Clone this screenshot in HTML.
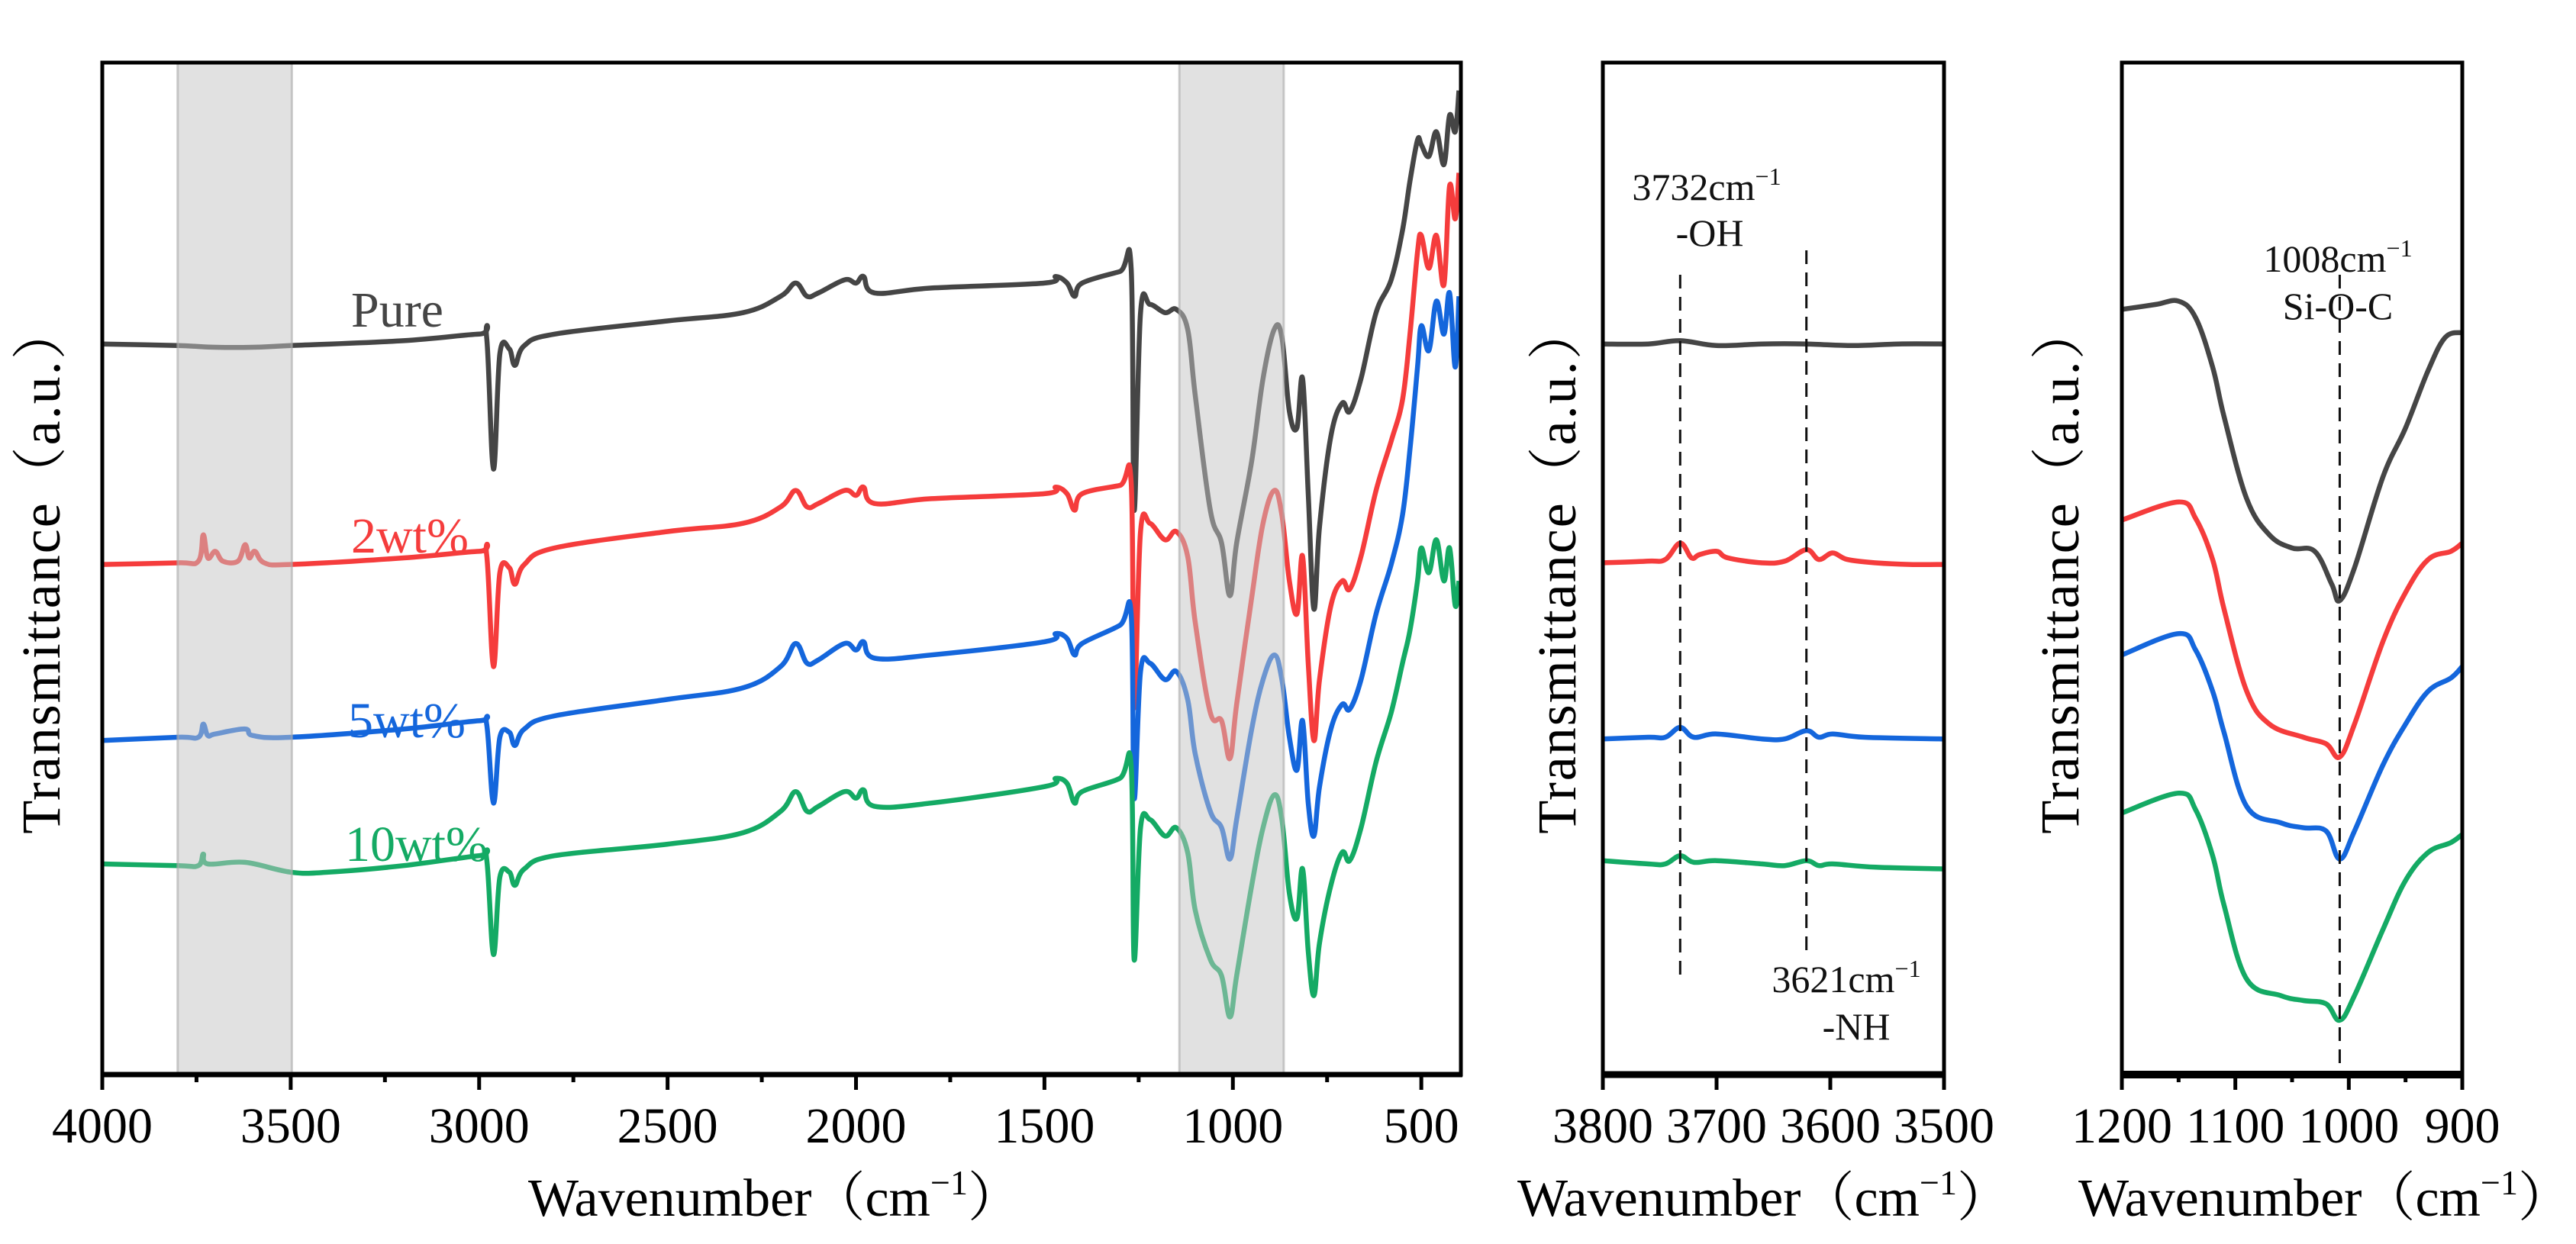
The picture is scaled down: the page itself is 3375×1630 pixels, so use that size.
<!DOCTYPE html>
<html><head><meta charset="utf-8">
<style>
html,body{margin:0;padding:0;background:#fff;}
svg{display:block;font-family:"Liberation Serif","Noto Serif CJK SC",serif;}
</style></head>
<body>
<svg id="chart" width="3375" height="1630" viewBox="0 0 3375 1630" xmlns="http://www.w3.org/2000/svg"></svg>
<script>
// ---------- data ----------
const seriesNames = ["Pure","2wt%","5wt%","10wt%"];
const seriesColors = ["#454545","#f53c3c","#1466dc","#14aa64"];
const mainTicks = [4000,3500,3000,2500,2000,1500,1000,500];
const ohTicks = [3800,3700,3600,3500];
const siTicks = [1200,1100,1000,900];
const bands = [[3800,3497],[1142,865]];
const ohPeaks = [3732,3621];
const siPeak = [1008];

const pureMain = [[4000,444],[3800,443],[3700,442],[3600,442],[3500,443],[3200,446],[3000,450],[2980,448],[2962,368],[2945,438],[2920,441],[2905,431],[2880,443],[2800,450],[2500,458],[2300,463],[2200,473],[2160,481],[2130,473],[2100,475],[2030,483],[2000,481],[1980,485],[1950,475],[1800,478],[1500,481],[1470,485],[1440,481],[1420,473],[1400,481],[1300,488],[1270,490],[1262,343],[1245,463],[1220,468],[1180,463],[1150,465],[1120,453],[1100,413],[1060,343],[1030,323],[1008,291],[990,323],[950,373],[920,423],[890,453],[870,448],[850,403],[830,393],[815,423],[800,353],[785,283],[770,333],[740,388],[710,408],[690,403],[660,423],[620,463],[580,483],[550,513],[530,543],[510,568],[500,565],[480,558],[460,573],[440,553],[425,583],[410,573],[400,598]];
const wt2Main = [[4000,310],[3800,311],[3745,312],[3732,328],[3720,314],[3700,318],[3680,312],[3640,312],[3621,322],[3610,314],[3595,318],[3570,311],[3500,310],[3200,314],[3000,318],[2980,316],[2962,248],[2945,305],[2920,308],[2905,298],[2880,310],[2800,320],[2500,330],[2300,335],[2200,345],[2160,355],[2130,345],[2100,347],[2030,355],[2000,352],[1980,357],[1950,347],[1800,350],[1500,353],[1470,357],[1440,353],[1420,343],[1400,353],[1300,358],[1270,360],[1262,223],[1245,330],[1220,335],[1180,325],[1150,330],[1120,315],[1100,275],[1060,220],[1030,215],[1008,192],[990,225],[950,290],[920,335],[890,355],[870,340],[850,300],[830,280],[815,315],[800,250],[785,203],[770,240],[740,285],[710,300],[690,295],[660,315],[620,355],[580,385],[550,410],[530,450],[510,500],[500,510],[480,490],[460,510],[440,480],[425,540],[410,520],[400,548]];
const wt5Main = [[4000,203],[3800,205],[3745,205],[3732,213],[3720,206],[3700,207],[3621,210],[3600,206],[3500,205],[3200,210],[3000,215],[2980,213],[2962,165],[2945,205],[2920,208],[2905,200],[2880,210],[2800,218],[2500,228],[2300,235],[2200,248],[2160,262],[2130,250],[2100,252],[2030,262],[2000,258],[1980,263],[1950,253],[1800,255],[1500,263],[1470,268],[1440,265],[1420,255],[1400,262],[1300,273],[1270,280],[1262,168],[1245,245],[1220,250],[1180,240],[1150,245],[1120,228],[1100,195],[1060,160],[1030,150],[1008,131],[990,155],[950,210],[920,240],[890,255],[870,240],[850,205],[830,185],[815,215],[800,165],[785,145],[770,175],[740,210],[710,225],[690,222],[660,240],[620,280],[580,310],[550,340],[530,380],[510,430],[500,455],[480,440],[460,470],[440,450],[425,475],[410,430],[400,473]];
const wt10Main = [[4000,128],[3800,127],[3745,127],[3732,134],[3720,128],[3621,129],[3500,123],[3400,123],[3200,127],[3000,133],[2980,131],[2962,73],[2945,120],[2920,123],[2905,115],[2880,125],[2800,133],[2500,140],[2300,147],[2200,160],[2160,172],[2130,160],[2100,163],[2030,172],[2000,168],[1980,173],[1950,163],[1800,165],[1500,175],[1470,180],[1440,177],[1420,165],[1400,172],[1300,180],[1270,188],[1262,70],[1245,150],[1220,155],[1180,145],[1150,150],[1120,135],[1100,100],[1060,70],[1030,60],[1008,35],[990,60],[950,115],[920,150],[890,170],[870,155],[850,110],[830,95],[815,125],[800,75],[785,48],[770,80],[740,115],[710,135],[690,130],[660,150],[620,190],[580,220],[550,250],[530,270],[510,300],[500,320],[480,305],[460,325],[440,300],[425,320],[410,285],[400,300]];

const pureOH = [[3800,444],[3760,444],[3732,446],[3700,443],[3660,444],[3621,444],[3580,443],[3540,444],[3500,444]];
const wt2OH = [[3800,311],[3760,312],[3745,313],[3732,323],[3722,314],[3715,316],[3700,318],[3690,314],[3660,311],[3640,312],[3621,319],[3610,313],[3598,317],[3585,313],[3560,311],[3530,310],[3500,310]];
const wt5OH = [[3800,204],[3760,205],[3745,205],[3732,211],[3720,205],[3700,207],[3660,204],[3640,204],[3621,209],[3610,205],[3598,207],[3570,205],[3500,204]];
const wt10OH = [[3800,130],[3760,128],[3745,128],[3732,133],[3720,129],[3700,130],[3660,128],[3640,127],[3621,130],[3610,127],[3598,128],[3560,126],[3500,125]];

const pureSi = [[1200,465],[1170,468],[1150,470],[1135,460],[1120,430],[1110,400],[1090,350],[1070,328],[1050,320],[1030,318],[1015,298],[1008,288],[995,308],[970,363],[950,393],[930,428],[915,448],[900,451]];
const wt2Si = [[1200,337],[1150,348],[1135,338],[1120,313],[1110,283],[1090,233],[1070,213],[1040,205],[1020,201],[1008,193],[995,213],[970,263],[950,293],[930,313],[910,318],[900,323]];
const wt5Si = [[1200,255],[1150,268],[1135,258],[1120,233],[1110,208],[1090,163],[1060,153],[1040,150],[1020,148],[1008,131],[995,148],[970,188],[950,213],[930,233],[910,241],[900,248]];
const wt10Si = [[1200,159],[1150,171],[1135,161],[1120,133],[1110,103],[1090,58],[1060,48],[1040,45],[1020,43],[1008,33],[995,48],[970,88],[950,118],[930,135],[910,141],[900,146]];

// ---------- rendering ----------
const NS = "http://www.w3.org/2000/svg";
const svg = document.getElementById("chart");
function mk(tag, attrs, parent){
  const e = document.createElementNS(NS, tag);
  for (const k in attrs) e.setAttribute(k, attrs[k]);
  (parent||svg).appendChild(e);
  return e;
}
const TOP = 82, BOT = 1408, YMAX = 615;
function yScale(v){ return BOT - v/YMAX*(BOT-TOP); }
function makeX(d0,d1,r0,r1){ return v => r0 + (v-d0)/(d1-d0)*(r1-r0); }

function smoothPath(pts){
  let d = "M"+pts[0][0].toFixed(1)+","+pts[0][1].toFixed(1);
  for (let i=0;i<pts.length-1;i++){
    const p0 = pts[Math.max(0,i-1)], p1=pts[i], p2=pts[i+1], p3=pts[Math.min(pts.length-1,i+2)];
    const t=0.18;
    const c1x=p1[0]+(p2[0]-p0[0])*t, c1y=p1[1]+(p2[1]-p0[1])*t;
    const c2x=p2[0]-(p3[0]-p1[0])*t, c2y=p2[1]-(p3[1]-p1[1])*t;
    d += "C"+c1x.toFixed(1)+","+c1y.toFixed(1)+" "+c2x.toFixed(1)+","+c2y.toFixed(1)+" "+p2[0].toFixed(1)+","+p2[1].toFixed(1);
  }
  return d;
}

function panel(cfg){
  const g = mk("g",{});
  
  
  const x = makeX(cfg.d0, cfg.d1, cfg.x0, cfg.x1);
  const clipId = cfg.name+"-clip";
  const cp = mk("clipPath",{id:clipId}, g);
  mk("rect",{x:cfg.x0,y:TOP,width:cfg.x1-cfg.x0,height:BOT-TOP},cp);
  const lg = mk("g",{"clip-path":"url(#"+clipId+")"}, g);
  cfg.series.forEach((s,i)=>{
    const p = mk("path",{d:smoothPath(s.map(q=>[x(q[0]),yScale(q[1])])),fill:"none",stroke:seriesColors[i],"stroke-width":6.5,"stroke-linejoin":"round"},lg);
    
    
  });
  (cfg.bands||[]).forEach(b=>{
    const r = mk("rect",{x:x(b[0]),y:TOP,width:x(b[1])-x(b[0]),height:BOT-TOP,fill:"rgba(195,195,195,0.5)",stroke:"rgba(170,170,170,0.6)","stroke-width":3},g);
    
    
  });
  (cfg.dashes||[]).forEach(dl=>{
    const l = mk("line",{x1:x(dl[0]),x2:x(dl[0]),y1:dl[1],y2:dl[2],stroke:"#111","stroke-width":3,"stroke-dasharray":"18,11"},g);
    
    
  });
  const fr = mk("rect",{x:cfg.x0,y:TOP,width:cfg.x1-cfg.x0,height:BOT-TOP,fill:"none",stroke:"#000","stroke-width":5},g);
  
  
  mk("line",{x1:cfg.x0-2,x2:cfg.x1+2,y1:BOT,y2:BOT,stroke:"#000","stroke-width":cfg.bw},g);
  cfg.ticks.forEach(t=>{
    mk("line",{x1:x(t),x2:x(t),y1:BOT,y2:1428,stroke:"#000","stroke-width":5},g);
    const tx = mk("text",{x:x(t),y:1497,"text-anchor":"middle","font-size":66},g);
    tx.textContent = t;
    
    
  });
  (cfg.minor||[]).forEach(t=>{
    mk("line",{x1:x(t),x2:x(t),y1:BOT,y2:1418,stroke:"#000","stroke-width":5},g);
  });
  const xt = mk("text",{x:cfg.titleX,y:1593,"text-anchor":"middle","font-size":70},g);
  xt.innerHTML = 'Wavenumber（cm<tspan dy="-28" font-size="46">−1</tspan><tspan dy="28">）</tspan>';
  
  
  const yt = mk("text",{x:0,y:0,"text-anchor":"middle","font-size":72,"letter-spacing":"2",transform:"translate("+cfg.ytX+",745) rotate(-90)"},g);
  yt.textContent = "Transmittance（a.u.）";
  
  
  return {g,x};
}

const mainMinor = [3750,3250,2750,2250,1750,1250,750];
const p1 = panel({name:"main-panel",d0:4000,d1:395,x0:134,x1:1914,series:[pureMain,wt2Main,wt5Main,wt10Main],bands:bands,ticks:mainTicks,minor:mainMinor,bw:7,titleX:1015,ytX:78});
const p2 = panel({name:"oh-panel",d0:3800,d1:3500,x0:2100,x1:2547,series:[pureOH,wt2OH,wt5OH,wt10OH],ticks:ohTicks,bw:9,titleX:2311,ytX:2064,
  dashes:[[ohPeaks[0],360,1285],[ohPeaks[1],328,1252]]});
const p3 = panel({name:"si-panel",d0:1200,d1:900,x0:2780,x1:3226,series:[pureSi,wt2Si,wt5Si,wt10Si],ticks:siTicks,minor:[1150,1050,950],bw:10,titleX:3046,ytX:2723,
  dashes:[[siPeak[0],360,1412]]});

function label(txt,xp,yp,col,size,name,anchor){
  const t = mk("text",{x:xp,y:yp,fill:col,"font-size":size,"text-anchor":anchor||"start"});
  t.innerHTML = txt;
  
  
}
label("Pure",460,428,seriesColors[0],66,"label-pure");
label("2wt%",460,724,seriesColors[1],66,"label-2wt");
label("5wt%",456,966,seriesColors[2],66,"label-5wt");
label("10wt%",452,1128,seriesColors[3],66,"label-10wt");
const sup = '<tspan dy="-20" font-size="32">−1</tspan>';
label("3732cm"+sup,2236,262,"#111",50,"annotation-3732","middle");
label("-OH",2240,322,"#111",50,"annotation-oh","middle");
label("3621cm"+sup,2419,1300,"#111",50,"annotation-3621","middle");
label("-NH",2432,1362,"#111",50,"annotation-nh","middle");
label("1008cm"+sup,3063,356,"#111",50,"annotation-1008","middle");
label("Si-O-C",3063,418,"#111",50,"annotation-si-o-c","middle");
</script>
</body></html>
